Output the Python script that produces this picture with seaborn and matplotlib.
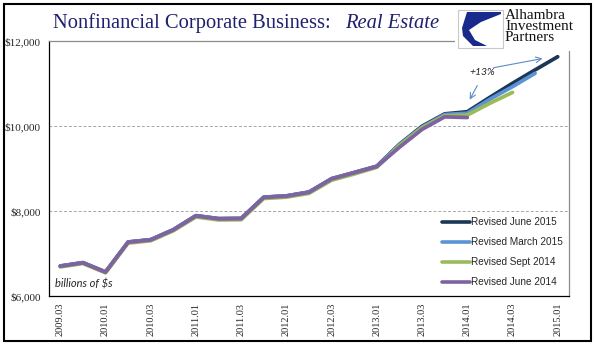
import numpy as np
import pandas as pd
import matplotlib
matplotlib.use("Agg")
import matplotlib.pyplot as plt
import seaborn as sns
from matplotlib.patches import Rectangle, Polygon

# quarterly observations, 2009 Q3 .. 2015 Q1
quarters = ['2009.03', '2009.04',
            '2010.01', '2010.02', '2010.03', '2010.04',
            '2011.01', '2011.02', '2011.03', '2011.04',
            '2012.01', '2012.02', '2012.03', '2012.04',
            '2013.01', '2013.02', '2013.03', '2013.04',
            '2014.01', '2014.02', '2014.03', '2014.04',
            '2015.01']

nan = np.nan
june_2015 = [6705, 6785, 6565, 7270, 7325, 7560, 7890, 7820, 7825, 8325, 8355, 8445,
             8760, 8905, 9055, 9570, 9995, 10285, 10335, 10675, 11005, 11320, 11630]
march_2015 = [6705, 6785, 6565, 7270, 7325, 7560, 7890, 7820, 7825, 8325, 8355, 8445,
              8760, 8905, 9050, 9560, 9975, 10270, 10300, 10630, 10925, 11240, nan]
sept_2014 = [6685, 6765, 6545, 7245, 7300, 7535, 7860, 7790, 7795, 8295, 8325, 8415,
             8725, 8870, 9030, 9540, 9960, 10240, 10255, 10535, 10790, nan, nan]
june_2014 = [6700, 6780, 6560, 7265, 7320, 7555, 7885, 7815, 7820, 8320, 8350, 8440,
             8755, 8900, 9045, 9500, 9920, 10215, 10200, nan, nan, nan, nan]

series_names = ['Revised June 2015', 'Revised March 2015', 'Revised Sept 2014', 'Revised June 2014']
series_vals = [june_2015, march_2015, sept_2014, june_2014]
colors = ['#1c3657', '#5b93d3', '#9bbb59', '#7f63a1']

rows = []
for name, vals in zip(series_names, series_vals):
    for i, v in enumerate(vals):
        rows.append({'idx': i, 'value': v, 'series': name})
df = pd.DataFrame(rows).dropna()

sns.set_style('white')
fig = plt.figure(figsize=(5.95, 3.61), dpi=100)
ax = fig.add_axes([49/595, 65/361, 520/595, 255/361])

sns.lineplot(data=df, x='idx', y='value', hue='series', hue_order=series_names,
             palette=colors, linewidth=2.7, ax=ax, legend=False)

ax.set_xlim(-0.5, len(quarters) - 0.5)
ax.set_ylim(6000, 12000)
ax.set_yticks([6000, 8000, 10000, 12000])
ax.set_yticklabels(['${:,.0f}'.format(v) for v in [6000, 8000, 10000, 12000]],
                   family='Liberation Serif', fontsize=8)
ax.set_xticks(range(0, len(quarters), 2))
ax.set_xticklabels(quarters[::2], rotation=90, family='Liberation Serif', fontsize=7.5)
ax.set_xticks(np.arange(-0.5, len(quarters), 1), minor=True)
ax.tick_params(axis='x', which='major', length=0, pad=5)
ax.tick_params(axis='x', which='minor', length=4, width=0.8, color='black', direction='out')
ax.tick_params(axis='y', which='major', length=4, width=0.8, color='black', direction='out', pad=2)
ax.set_xlabel('')
ax.set_ylabel('')

for y in [8000, 10000]:
    ax.axhline(y, color='#a6a6a6', lw=0.7, ls=(0, (3, 2)), zorder=0)
ax.spines['left'].set_color('black')
ax.spines['bottom'].set_color('black')
ax.spines['top'].set_color('#8c8c8c')
ax.spines['right'].set_color('#8c8c8c')
for s in ax.spines.values():
    s.set_linewidth(0.9)

# legend
handles = [plt.Line2D([], [], color=c, lw=2.6) for c in colors]
ax.legend(handles, series_names, loc='upper left', bbox_to_anchor=(433/595, 1 - 208/361),
          bbox_transform=fig.transFigure, frameon=False, handlelength=2.8,
          handletextpad=0.1, labelspacing=1.0, prop={'family': 'Liberation Sans', 'size': 7.2})

ax.text(0.012, 0.035, 'billions of $s', transform=ax.transAxes, style='italic',
        family='Lato', fontsize=8)

# +13% annotation
ax.text(18.1, 11270, '+13%', style='italic', family='Lato', fontsize=7.5, va='center')
ax.annotate('', xy=(21.45, 11600), xytext=(19.05, 11360),
            arrowprops=dict(arrowstyle='->', color='#5b8cc8', lw=0.8, mutation_scale=10))
ax.annotate('', xy=(18.05, 10560), xytext=(18.5, 11010),
            arrowprops=dict(arrowstyle='->', color='#5b8cc8', lw=0.8, mutation_scale=10))

# title
fig.text(53/595, 1 - 28/361, 'Nonfinancial Corporate Business:', family='Liberation Serif',
         fontsize=14.8, color='#1f1f6e', va='baseline')
fig.text(345/595, 1 - 28/361, 'Real Estate', family='Liberation Serif', style='italic',
         fontsize=14.8, color='#1f1f6e', va='baseline')

# logo block
lax = fig.add_axes([455/595, 1 - 51/361, 137/595, 47/361], zorder=5)
lax.set_xlim(0, 137)
lax.set_ylim(47, 0)
lax.axis('off')
lax.add_patch(Rectangle((0, 0), 137, 47, facecolor='white', edgecolor='none'))
lax.add_patch(Rectangle((3, 6), 45, 38, facecolor='white', edgecolor='#c8c8c8', lw=0.8))
lax.add_patch(Polygon([(12, 8), (46, 8), (46, 10), (26, 18), (14, 26), (20, 36), (32, 42),
                       (18, 42), (8, 32), (7, 24)], closed=True, facecolor='#1a2a8c', edgecolor='none'))
lax.text(50, 5, 'Alhambra\nInvestment\nPartners', family='Liberation Serif', fontsize=11,
         color='#111111', va='top', ha='left', linespacing=0.82)

# outer frame
fig.patches.append(Rectangle((4/595, 20/361), 587/595, 337/361, transform=fig.transFigure,
                             facecolor='none', edgecolor='black', lw=1.5, zorder=10))

fig.savefig('out.png', dpi=100)
